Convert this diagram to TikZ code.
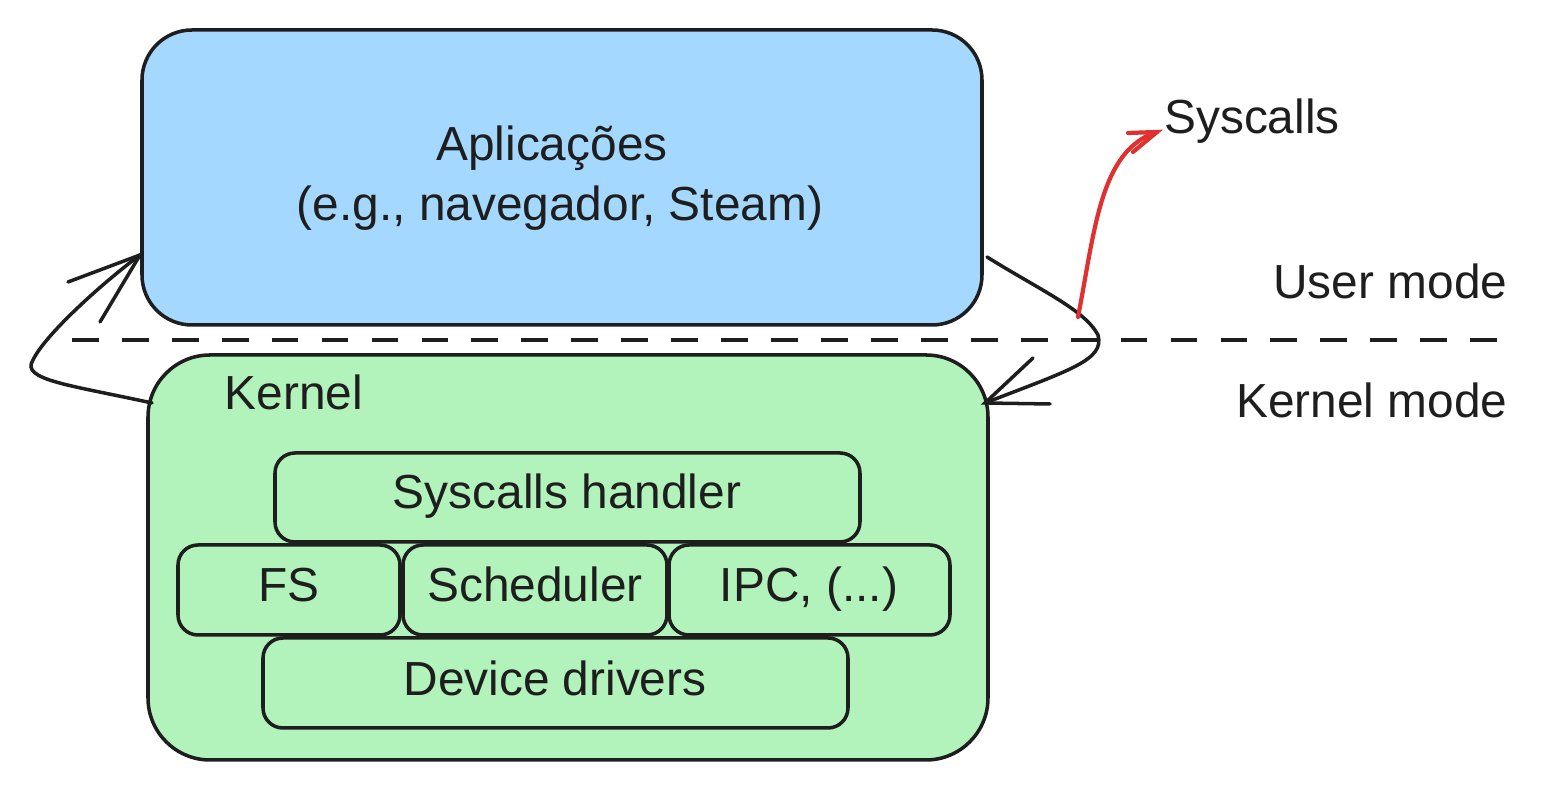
\documentclass[tikz,border=0pt]{standalone}
\usepackage{fontspec}
\setmainfont{Liberation Sans}
\usetikzlibrary{calc}
\definecolor{ink}{HTML}{1E1E1E}
\definecolor{userblue}{HTML}{A5D8FF}
\definecolor{kgreen}{HTML}{B2F2BB}
\definecolor{sysred}{HTML}{E03131}
\tikzset{
  layerbox/.style={draw=ink, line width=1pt, rounded corners=0.5cm},
  modbox/.style={draw=ink, line width=1pt, fill=kgreen, rounded corners=0.2cm},
  lbl/.style={text=ink, font=\fontsize{13.6}{16}\selectfont, inner sep=0pt, text height=0.72em, text depth=0em},
  flow/.style={draw=ink, line width=1pt, line cap=round},
  redflow/.style={draw=sysred, line width=1.2pt, line cap=round},
  sep/.style={draw=ink, line width=1.2pt, dash pattern=on 7.6pt off 6.6pt}
}
\begin{document}
\begin{tikzpicture}[x=0.01cm,y=-0.01cm]
\useasboundingbox (0,0) rectangle (1544,789);
% layers
\path[layerbox, fill=userblue] (142,30) rectangle (982,325);
\path[layerbox, fill=kgreen, rounded corners=0.62cm] (148,355) rectangle (988,760);
\coordinate (blueL) at (140,255);
\coordinate (blueR) at (987,257);
\coordinate (greenL) at (152,403);
\coordinate (greenR) at (985,403);
% separator
\coordinate (sepA) at (72,340);
\coordinate (sepB) at (1515,340);
\draw[sep] (sepA) -- (sepB);
% texts in user layer
\node[lbl] (app) at (552,148) {Aplicações};
\node[lbl] (appsub) at (560,208) {(e.g., navegador, Steam)};
\node[lbl, anchor=west] (kernel) at (224,397) {Kernel};
% modules
\path[modbox] (275,453) rectangle (860,542);
\node[lbl] (sysh) at (567,496) {Syscalls handler};
\path[modbox] (178,545) rectangle (400,635);
\node[lbl] (fs) at (289,589) {FS};
\path[modbox] (403,545) rectangle (667,635);
\node[lbl] (sched) at (535,589) {Scheduler};
\path[modbox] (669,545) rectangle (950,635);
\node[lbl] (ipc) at (809,589) {IPC, (...)};
\path[modbox] (263,638) rectangle (848,728);
\node[lbl] (dev) at (555,683) {Device drivers};
% side labels
\node[lbl] (sysc) at (1252,121) {Syscalls};
\node[lbl, anchor=east] (umode) at (1508,286) {User mode};
\node[lbl, anchor=east] (kmode) at (1508,405) {Kernel mode};
% left arrow: kernel -> user
\draw[flow] (greenL) .. controls (70,385) and (20,380) .. (33,360)
  .. controls (45,335) and (100,285) .. (blueL);
\draw[flow] (68,282) -- (blueL) -- (100,322);
% right arrow: user -> kernel
\draw[flow] (blueR) .. controls (1040,290) and (1085,310) .. (1098,335)
  .. controls (1105,360) and (1070,370) .. (greenR);
\draw[flow] (1033,358) -- (greenR) -- (1050,404);
% red syscall arrow
\coordinate (redA) at (1078,317);
\coordinate (redB) at (1157,132);
\draw[redflow] (redA) .. controls (1095,230) and (1100,150) .. (redB);
\draw[redflow] (1128,133) -- (redB) -- (1133,152);
\end{tikzpicture}
\end{document}
